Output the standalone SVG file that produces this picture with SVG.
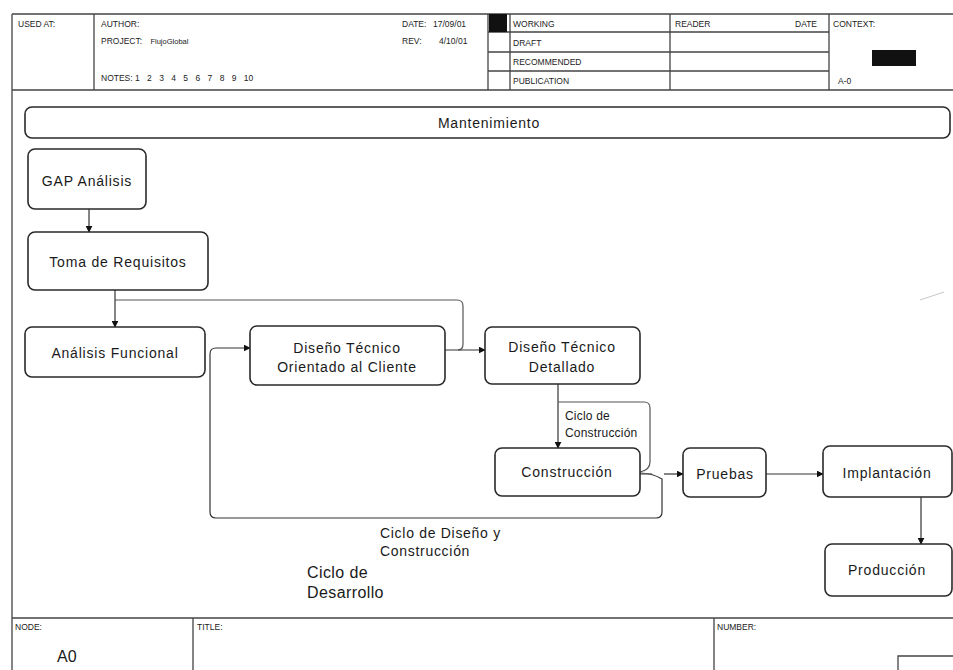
<svg xmlns="http://www.w3.org/2000/svg" width="953" height="670" viewBox="0 0 953 670">
  <defs>
    <marker id="arrow" viewBox="0 0 10 10" refX="9" refY="5" markerWidth="7" markerHeight="7" markerUnits="userSpaceOnUse" orient="auto">
      <path d="M0,0 L10,5 L0,10 z" fill="#111"/>
    </marker>
    <style>
      .frame { fill: none; stroke: #444; stroke-width: 1.3; }
      .hdr { font-family: "Liberation Sans", Arial, sans-serif; font-size: 8.5px; fill: #222; }
      .box { fill: #fff; stroke: #2a2a2a; stroke-width: 1.6; }
      .lbl { font-family: "Liberation Sans", Arial, sans-serif; font-size: 14px; letter-spacing: 0.8px; fill: #1a1a1a; text-anchor: middle; }
      .note { font-family: "Liberation Sans", Arial, sans-serif; fill: #1a1a1a; }
      .wire { fill: none; stroke: #555; stroke-width: 1.2; }
      .arr { fill: none; stroke: #333; stroke-width: 1.2; marker-end: url(#arrow); }
    </style>
  </defs>
  <rect width="953" height="670" fill="#fff"/>

  <!-- IDEF0 header form -->
  <g id="header">
    <path class="frame" d="M12,14 H953 M12,14 V670 M94,14 V90 M12,90 H953"/>
    <path class="frame" d="M488,14 V90 M510,14 V90 M670,14 V90 M829,14 V90 M488,32 H829 M488,52 H829 M488,71 H829"/>
    <rect x="489" y="14" width="18" height="18" fill="#111"/>
    <rect x="872" y="50" width="44" height="16" fill="#111"/>
    <text class="hdr" x="18" y="27">USED AT:</text>
    <text class="hdr" x="101" y="27">AUTHOR:</text>
    <text class="hdr" x="101" y="44">PROJECT: <tspan dx="6" font-size="7.5">FlujoGlobal</tspan></text>
    <text class="hdr" x="101" y="81">NOTES:  <tspan word-spacing="5">1 2 3 4 5 6 7 8 9 10</tspan></text>
    <text class="hdr" x="402" y="27">DATE:</text>
    <text class="hdr" x="433" y="27">17/09/01</text>
    <text class="hdr" x="402" y="44">REV:</text>
    <text class="hdr" x="439" y="44">4/10/01</text>
    <text class="hdr" x="513" y="27">WORKING</text>
    <text class="hdr" x="513" y="46">DRAFT</text>
    <text class="hdr" x="513" y="65">RECOMMENDED</text>
    <text class="hdr" x="513" y="84">PUBLICATION</text>
    <text class="hdr" x="675" y="27">READER</text>
    <text class="hdr" x="795" y="27">DATE</text>
    <text class="hdr" x="833" y="27">CONTEXT:</text>
    <text class="hdr" x="838" y="84">A-0</text>
  </g>

  <!-- footer form -->
  <g id="footer">
    <path class="frame" d="M12,618 H953 M193,618 V670 M714,618 V670 M898,670 V656 H953"/>
    <text class="hdr" x="15" y="630">NODE:</text>
    <text class="hdr" x="197" y="630">TITLE:</text>
    <text class="hdr" x="717" y="630">NUMBER:</text>
    <text class="note" x="57" y="662" font-size="16">A0</text>
  </g>

  <!-- connectors -->
  <g id="connectors">
    <path class="arr" d="M89,209 V232"/>
    <path class="arr" d="M115,290 V327"/>
    <path class="wire" d="M115,300 H457 Q463,300 463,306 V344 Q463,350 458,350"/>
    <path class="arr" d="M445,350 H485"/>
    <path class="arr" d="M640,473 Q652,473 662,479 V512 Q662,518 656,518 H216 Q210,518 210,512 V354 Q210,348 216,348 H250"/>
    <path class="arr" d="M558,384 V448"/>
    <path class="wire" d="M558,402 H644 Q650,402 650,408 V462 Q650,470 640,472"/>
    <path class="wire" d="M640,474 H652"/>
    <path class="arr" d="M664,474 H683"/>
    <path class="arr" d="M766,474 H823"/>
    <path class="arr" d="M921,497 V544"/>
    <path d="M920,300 L944,292" stroke="#ccc" stroke-width="1.2" fill="none"/>
  </g>

  <!-- activity boxes -->
  <g id="mantenimiento">
    <rect class="box" x="25" y="107" width="925" height="31" rx="7"/>
    <text class="lbl" x="489" y="128">Mantenimiento</text>
  </g>
  <g id="gap-analisis">
    <rect class="box" x="28" y="149" width="118" height="60" rx="7"/>
    <text class="lbl" x="87" y="186">GAP Análisis</text>
  </g>
  <g id="toma-requisitos">
    <rect class="box" x="28" y="232" width="180" height="58" rx="7"/>
    <text class="lbl" x="118" y="267">Toma de Requisitos</text>
  </g>
  <g id="analisis-funcional">
    <rect class="box" x="25" y="327" width="180" height="50" rx="7"/>
    <text class="lbl" x="115" y="358">Análisis Funcional</text>
  </g>
  <g id="diseno-cliente">
    <rect class="box" x="250" y="326" width="195" height="59" rx="7"/>
    <text class="lbl" x="347" y="353">Diseño Técnico</text>
    <text class="lbl" x="347" y="372">Orientado al Cliente</text>
  </g>
  <g id="diseno-detallado">
    <rect class="box" x="485" y="327" width="155" height="57" rx="7"/>
    <text class="lbl" x="562" y="352">Diseño Técnico</text>
    <text class="lbl" x="562" y="372">Detallado</text>
  </g>
  <g id="construccion">
    <rect class="box" x="495" y="448" width="145" height="48" rx="7"/>
    <text class="lbl" x="567" y="477">Construcción</text>
  </g>
  <g id="pruebas">
    <rect class="box" x="683" y="448" width="83" height="49" rx="7"/>
    <text class="lbl" x="725" y="479">Pruebas</text>
  </g>
  <g id="implantacion">
    <rect class="box" x="823" y="446" width="129" height="51" rx="7"/>
    <text class="lbl" x="887" y="478">Implantación</text>
  </g>
  <g id="produccion">
    <rect class="box" x="825" y="544" width="127" height="52" rx="7"/>
    <text class="lbl" x="887" y="575">Producción</text>
  </g>

  <!-- loop labels -->
  <g id="labels">
    <text class="note" x="565" y="420" font-size="12" letter-spacing="0.2">Ciclo de</text>
    <text class="note" x="565" y="437" font-size="12" letter-spacing="0.2">Construcción</text>
    <text class="note" x="380" y="538" font-size="14" letter-spacing="0.7">Ciclo de Diseño y</text>
    <text class="note" x="380" y="556" font-size="14" letter-spacing="0.7">Construcción</text>
    <text class="note" x="307" y="578" font-size="16" letter-spacing="0.4">Ciclo de</text>
    <text class="note" x="307" y="598" font-size="16" letter-spacing="0.4">Desarrollo</text>
  </g>
</svg>
